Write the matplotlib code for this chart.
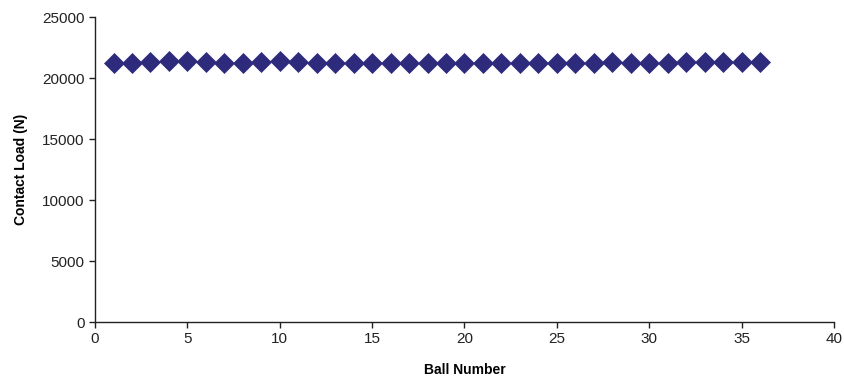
import matplotlib
matplotlib.use("Agg")
import matplotlib.pyplot as plt

plt.rcParams['font.family'] = ['Liberation Sans', 'DejaVu Sans']

ball_number = list(range(1, 37))
contact_load = [21200, 21200, 21350, 21400, 21400, 21350, 21250, 21200, 21350, 21400,
                21300, 21200, 21200, 21250, 21200, 21200, 21250, 21200, 21250, 21200,
                21250, 21200, 21250, 21200, 21200, 21200, 21250, 21300, 21250, 21200,
                21250, 21300, 21350, 21350, 21350, 21350]

fig = plt.figure(figsize=(8.44, 3.78), dpi=100)
ax = fig.add_axes([0.1126, 0.148, 0.8754, 0.807])
ax.plot(ball_number, contact_load, linestyle='none', marker='D', markersize=10.3,
        color='#2E2B7C', markeredgecolor='#2E2B7C', markeredgewidth=0.5)
ax.set_xlim(0, 40)
ax.set_ylim(0, 25000)
ax.set_xticks(range(0, 41, 5))
ax.set_yticks(range(0, 25001, 5000))
for s in ['top', 'right']:
    ax.spines[s].set_visible(False)
for s in ['left', 'bottom']:
    ax.spines[s].set_linewidth(1.0)
    ax.spines[s].set_color('#222222')
ax.tick_params(direction='out', length=4, width=1, labelsize=11, colors='#222222')
ax.set_xlabel('Ball Number', fontsize=10, fontweight='bold', labelpad=12)
ax.set_ylabel('Contact Load (N)', fontsize=10, fontweight='bold', labelpad=10)
fig.savefig('out.png', dpi=100)
